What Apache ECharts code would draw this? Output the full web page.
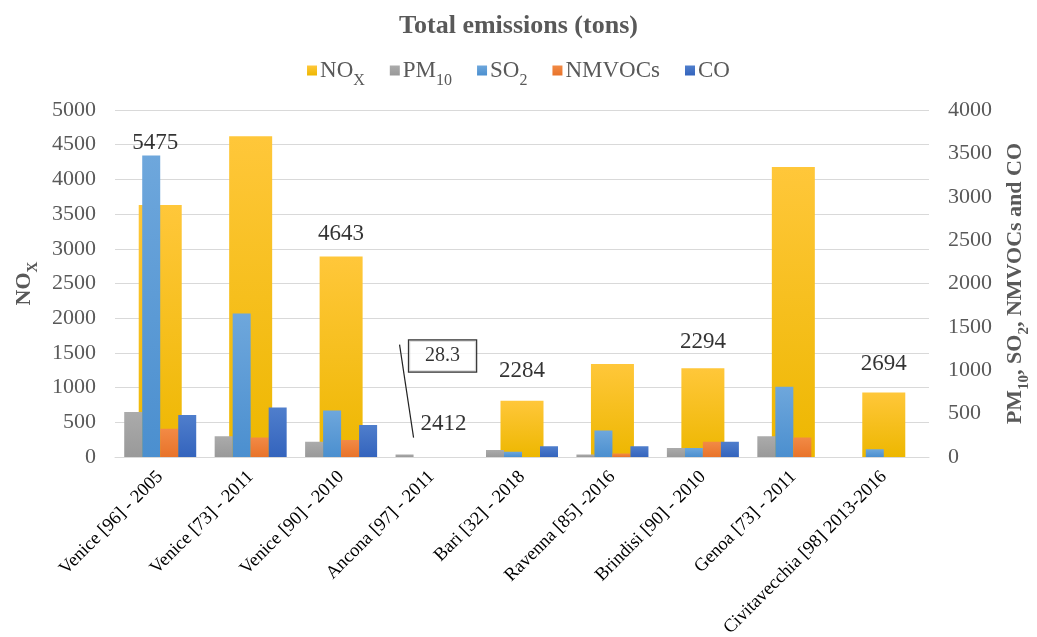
<!DOCTYPE html>
<html>
<head>
<meta charset="utf-8">
<script src="https://cdn.jsdelivr.net/npm/echarts@6/dist/echarts.min.js"></script>
<style>
  html, body { margin: 0; padding: 0; background: #fff; }
  #chart { width: 1037px; height: 637px; }
</style>
</head>
<body>
<div id="chart"></div>
<script>
// data
var sites = ['Venice [96] - 2005', 'Venice [73] - 2011', 'Venice [90] - 2010', 'Ancona [97] - 2011',
  'Bari [32] - 2018', 'Ravenna [85] -2016', 'Brindisi [90] - 2010', 'Genoa [73] - 2011', 'Civitavecchia [98] 2013-2016'];
var nox = [3630, 4620, 2890, 0, 810, 1340, 1280, 4180, 930];
var pm10 = [520, 240, 175, 30, 80, 30, 105, 240, 0];
var so2 = [3475, 1655, 535, 0, 60, 305, 105, 810, 90];
var nmvoc = [325, 225, 195, 0, 0, 40, 175, 225, 0];
var co = [485, 570, 370, 0, 125, 125, 175, 0, 0];

// text notes written on the chart (height in NOx units)
var noteText = ['5475', '4643', '2412', '28.3', '2284', '2294', '2694'];
var noteSite = [0, 2, 3, 3, 4, 6, 8];
var noteY = [4530, 3210, 470, 1455, 1245, 1655, 1340];

var leftTicks = [0, 5000, 500];
var rightTicks = [0, 4000, 500];

var serif = 'Liberation Serif';
var grey = '#595959';

function grad(c1, c2) {
  return new echarts.graphic.LinearGradient(0, 0, 0, 1, [
    { offset: 0, color: c1 }, { offset: 1, color: c2 }
  ]);
}

var subRich = {
  a: { fontFamily: serif, fontSize: 23, color: grey, lineHeight: 30, verticalAlign: 'middle' },
  s: { fontFamily: serif, fontSize: 16, color: grey, lineHeight: 30, verticalAlign: 'bottom', padding: [0, 0, -3, 0] },
  b: { fontFamily: serif, fontSize: 22, color: grey, fontWeight: 'bold', lineHeight: 28 },
  bs: { fontFamily: serif, fontSize: 15, color: grey, fontWeight: 'bold', lineHeight: 28, verticalAlign: 'bottom', padding: [0, 0, -3, 0] }
};

var legendNames = {
  'NOx': '{a|NO}{s|X}',
  'PM10': '{a|PM}{s|10}',
  'SO2': '{a|SO}{s|2}',
  'NMVOCs': '{a|NMVOCs}',
  'CO': '{a|CO}'
};

var chart = echarts.init(document.getElementById('chart'));

var notes = noteText.map(function (t, i) {
  var item = { value: [noteSite[i], noteY[i]], name: t };
  if (t === '28.3') {
    item.label = { offset: [11, 0], borderColor: '#000', borderWidth: 1.2, padding: [6, 16, 5, 16], backgroundColor: '#fff', fontSize: 20 };
  } else if (t === '2412') {
    item.label = { offset: [12, 0] };
  } else if (i === 0) {
    item.label = { offset: [-5, 0] };
  }
  return item;
});

var option = {
  animation: false,
  title: {
    text: 'Total emissions (tons)',
    left: 'center',
    top: 8,
    textStyle: { fontFamily: serif, fontSize: 26, fontWeight: 'bold', color: grey }
  },
  legend: {
    top: 54,
    left: 'center',
    itemWidth: 10,
    itemHeight: 10,
    itemGap: 25,
    icon: 'rect',
    data: ['NOx', 'PM10', 'SO2', 'NMVOCs', 'CO'],
    formatter: function (n) { return legendNames[n]; },
    textStyle: { rich: subRich, padding: [0, 0, 0, -2] }
  },
  grid: { left: 115, right: 108, top: 110, bottom: 180, outerBoundsMode: 'none' },
  xAxis: [
    {
      type: 'category',
      data: sites,
      axisLine: { lineStyle: { color: '#d9d9d9' } },
      axisTick: { show: false },
      axisLabel: { rotate: 45, interval: 0, margin: 17, fontFamily: serif, fontSize: 18.5, color: '#000' }
    },
    {
      type: 'category',
      data: sites,
      show: false
    }
  ],
  yAxis: [
    {
      type: 'value',
      min: leftTicks[0], max: leftTicks[1], interval: leftTicks[2],
      name: '{b|NO}{bs|X}',
      nameLocation: 'middle',
      nameRotate: 90,
      nameGap: 75,
      nameTextStyle: { rich: subRich },
      axisLine: { show: false },
      axisTick: { show: false },
      axisLabel: { margin: 19, fontFamily: serif, fontSize: 22, color: grey, formatter: function (v) { return String(v); } },
      splitLine: { lineStyle: { color: '#d9d9d9', width: 1.2 } }
    },
    {
      type: 'value',
      min: rightTicks[0], max: rightTicks[1], interval: rightTicks[2],
      name: '{b|PM}{bs|10}{b|, SO}{bs|2}{b|, NMVOCs and CO}',
      nameLocation: 'middle',
      nameRotate: 90,
      nameGap: 72,
      nameTextStyle: { rich: subRich },
      axisLine: { show: false },
      axisTick: { show: false },
      axisLabel: { margin: 19, fontFamily: serif, fontSize: 22, color: grey, formatter: function (v) { return String(v); } },
      splitLine: { show: false }
    }
  ],
  series: [
    {
      name: 'NOx', type: 'bar', xAxisIndex: 1, yAxisIndex: 0, barWidth: 43,
      itemStyle: { color: grad('#FFC73A', '#EDB700') },
      data: nox
    },
    {
      name: 'PM10', type: 'bar', xAxisIndex: 0, yAxisIndex: 1, barWidth: 18, barGap: '0%',
      itemStyle: { color: grad('#ABABAB', '#999999') },
      data: pm10
    },
    {
      name: 'SO2', type: 'bar', xAxisIndex: 0, yAxisIndex: 1, barWidth: 18, barGap: '0%',
      itemStyle: { color: grad('#6EA7DC', '#4B8FCF') },
      data: so2
    },
    {
      name: 'NMVOCs', type: 'bar', xAxisIndex: 0, yAxisIndex: 1, barWidth: 18, barGap: '0%',
      itemStyle: { color: grad('#F28A45', '#E8732A') },
      data: nmvoc
    },
    {
      name: 'CO', type: 'bar', xAxisIndex: 0, yAxisIndex: 1, barWidth: 18, barGap: '0%',
      itemStyle: { color: grad('#4F7ECC', '#3464BD') },
      data: co
    },
    {
      name: 'notes', type: 'scatter', xAxisIndex: 0, yAxisIndex: 0,
      symbolSize: 0, silent: true, z: 5,
      label: {
        show: true, position: 'inside',
        formatter: function (p) { return p.name; },
        fontFamily: serif, fontSize: 23, color: '#000'
      },
      data: notes
    }
  ]
};

chart.setOption(option);

// leader line from the 28.3 box down to the Ancona bar
var lineTop = chart.convertToPixel({ xAxisIndex: 0, yAxisIndex: 0 }, [3, 1620]);
var lineEnd = chart.convertToPixel({ xAxisIndex: 0, yAxisIndex: 0 }, [3, 280]);
chart.setOption({
  graphic: [{
    type: 'line',
    shape: { x1: lineTop[0] - 32, y1: lineTop[1], x2: lineEnd[0] - 18, y2: lineEnd[1] },
    style: { stroke: '#222', lineWidth: 1.2 },
    z: 10
  }]
});
</script>
</body>
</html>
